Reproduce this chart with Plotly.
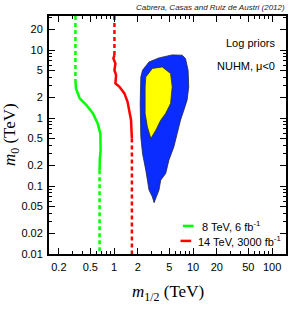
import math
import plotly.graph_objects as go

# ---------------- data (TeV) ----------------
# 8 TeV, 6 fb^-1 reach: dashed extrapolations + solid computed part
green_top_x = [0.324, 0.324]
green_top_y = [31.6, 3.6]
green_x = [0.324, 0.33, 0.367, 0.446, 0.54, 0.62, 0.67, 0.68, 0.675, 0.66, 0.655]
green_y = [3.6, 2.7, 1.94, 1.55, 1.17, 0.83, 0.59, 0.42, 0.33, 0.25, 0.17]
green_bot_x = [0.655, 0.655]
green_bot_y = [0.17, 0.01]

# 14 TeV, 3000 fb^-1 reach
red_top_x = [1.01, 1.01]
red_top_y = [31.6, 8.4]
red_x = [1.01, 0.98, 1.04, 1.01, 1.06, 1.04, 1.17, 1.35, 1.48, 1.56, 1.64, 1.66, 1.68]
red_y = [8.4, 7.5, 6.3, 5.05, 4.26, 3.22, 2.87, 2.30, 1.73, 1.30, 0.93, 0.66, 0.50]
red_bot_x = [1.68, 1.68]
red_bot_y = [0.50, 0.01]

# 95% credible region (blue)
blue_x = [2.18, 2.29, 2.77, 3.70, 5.44, 7.26, 8.01, 8.64, 8.81, 8.39, 7.63, 6.93,
          6.29, 5.71, 4.94, 4.50, 3.89, 3.70, 3.43, 3.21, 3.05, 2.77, 2.52, 2.29,
          2.18, 2.14, 2.18]
blue_y = [4.02, 5.05, 6.68, 7.65, 8.47, 8.38, 7.50, 5.05, 2.87, 1.83, 1.30, 0.93,
          0.59, 0.377, 0.24, 0.153, 0.122, 0.087, 0.0695, 0.0568, 0.0695, 0.087,
          0.171, 0.301, 0.528, 1.64, 4.02]

# 68% credible region (yellow)
yellow_x = [2.52, 3.05, 4.07, 5.19, 5.44, 5.19, 4.50, 3.89, 3.37, 2.92, 2.64, 2.47, 2.47, 2.52]
yellow_y = [4.02, 5.35, 5.64, 4.51, 2.87, 1.64, 1.17, 0.93, 0.66, 0.50, 0.74, 1.17, 2.87, 4.02]

x_ticks = [0.2, 0.5, 1, 2, 5, 10, 20, 50, 100]
x_ticklabels = ["0.2", "0.5", "1", "2", "5", "10", "20", "50", "100"]
y_ticks = [0.01, 0.02, 0.05, 0.1, 0.2, 0.5, 1, 2, 5, 10, 20]
y_ticklabels = ["0.01", "0.02", "0.05", "0.1", "0.2", "0.5", "1", "2", "5", "10", "20"]

GREEN = "#00ff00"
RED = "#ff0000"
BLUE = "#0a2cff"
YELLOW = "#ffff00"

fig = go.Figure()
fig.add_trace(go.Scatter(x=blue_x, y=blue_y, mode="lines", fill="toself",
                         fillcolor=BLUE, line=dict(color="#222244", width=0.8),
                         showlegend=False, hoverinfo="skip"))
fig.add_trace(go.Scatter(x=yellow_x, y=yellow_y, mode="lines", fill="toself",
                         fillcolor=YELLOW, line=dict(color="#333300", width=0.8),
                         showlegend=False, hoverinfo="skip"))
for xs, ys, col, dash in [
    (green_top_x, green_top_y, GREEN, "dash"),
    (green_x, green_y, GREEN, "solid"),
    (green_bot_x, green_bot_y, GREEN, "dash"),
    (red_top_x, red_top_y, RED, "dash"),
    (red_x, red_y, RED, "solid"),
    (red_bot_x, red_bot_y, RED, "dash"),
]:
    fig.add_trace(go.Scatter(x=xs, y=ys, mode="lines",
                             line=dict(color=col, width=2.5, dash="4px,3px" if dash == "dash" else "solid"),
                             showlegend=False, hoverinfo="skip"))

def minor_vals(lo_exp, hi_exp):
    vals = []
    for e in range(lo_exp, hi_exp + 1):
        for d in range(1, 10):
            vals.append(d * 10 ** e)
    return vals

axis_common = dict(type="log", showgrid=False, zeroline=False, showline=True,
                   linecolor="black", linewidth=2, mirror="allticks",
                   ticks="inside", ticklen=6, tickwidth=1, tickcolor="black",
                   tickfont=dict(family="Liberation Sans, Arial, sans-serif", size=11, color="black"))

fig.update_xaxes(range=[math.log10(0.15), math.log10(150)],
                 tickvals=x_ticks, ticktext=x_ticklabels,
                 minor=dict(tickvals=minor_vals(-1, 2), ticks="inside", ticklen=3,
                            tickwidth=1, tickcolor="black"),
                 ticklabelstandoff=2,
                 **axis_common)
fig.update_yaxes(range=[-2, 1.5],
                 tickvals=y_ticks, ticktext=y_ticklabels,
                 minor=dict(tickvals=minor_vals(-2, 1), ticks="inside", ticklen=3,
                            tickwidth=1, tickcolor="black"),
                 ticklabelstandoff=2,
                 **axis_common)

serif = "Liberation Serif, Times New Roman, serif"
sans = "Liberation Sans, Arial, sans-serif"
ann = [
    dict(text="<i>Cabrera, Casas and Ruiz de Austri (2012)</i>", xref="paper", yref="paper",
         x=1.0, y=1.0, xanchor="right", yanchor="bottom", yshift=2, xshift=1,
         showarrow=False, font=dict(family=sans, size=8, color="#222")),
    dict(text="Log priors", xref="paper", yref="paper", x=0.96, y=0.886,
         xanchor="right", yanchor="middle", showarrow=False,
         font=dict(family=sans, size=11, color="black")),
    dict(text="NUHM, μ<0", xref="paper", yref="paper", x=0.96, y=0.79,
         xanchor="right", yanchor="middle", showarrow=False,
         font=dict(family=sans, size=11, color="black")),
    dict(text="8 TeV, 6 fb<sup>-1</sup>", xref="paper", yref="paper", x=0.636, y=0.118,
         xanchor="left", yanchor="middle", showarrow=False,
         font=dict(family=sans, size=11, color="black")),
    dict(text="14 TeV, 3000 fb<sup>-1</sup>", xref="paper", yref="paper", x=0.62, y=0.055,
         xanchor="left", yanchor="middle", showarrow=False,
         font=dict(family=sans, size=11, color="black")),
    dict(text="<i>m</i><sub>1/2</sub> (TeV)", xref="paper", yref="paper", x=0.5, y=-0.165,
         xanchor="center", yanchor="middle", showarrow=False,
         font=dict(family=serif, size=17, color="black")),
    dict(text="<i>m</i><sub>0</sub> (TeV)", xref="paper", yref="paper", x=-0.16, y=0.5,
         xanchor="center", yanchor="middle", showarrow=False, textangle=-90,
         font=dict(family=serif, size=17, color="black")),
]
shapes = [
    dict(type="line", xref="paper", yref="paper", x0=0.565, x1=0.61, y0=0.118, y1=0.118,
         line=dict(color=GREEN, width=2.5)),
    dict(type="line", xref="paper", yref="paper", x0=0.555, x1=0.60, y0=0.055, y1=0.055,
         line=dict(color=RED, width=2.5)),
]

fig.update_layout(width=291, height=310, margin=dict(l=49, r=3, t=16, b=56),
                  plot_bgcolor="white", paper_bgcolor="white",
                  annotations=ann, shapes=shapes, showlegend=False)

fig.write_html("out.html", config={"displayModeBar": False},
               post_script="document.body.style.margin='0';document.body.style.overflow='hidden';")
